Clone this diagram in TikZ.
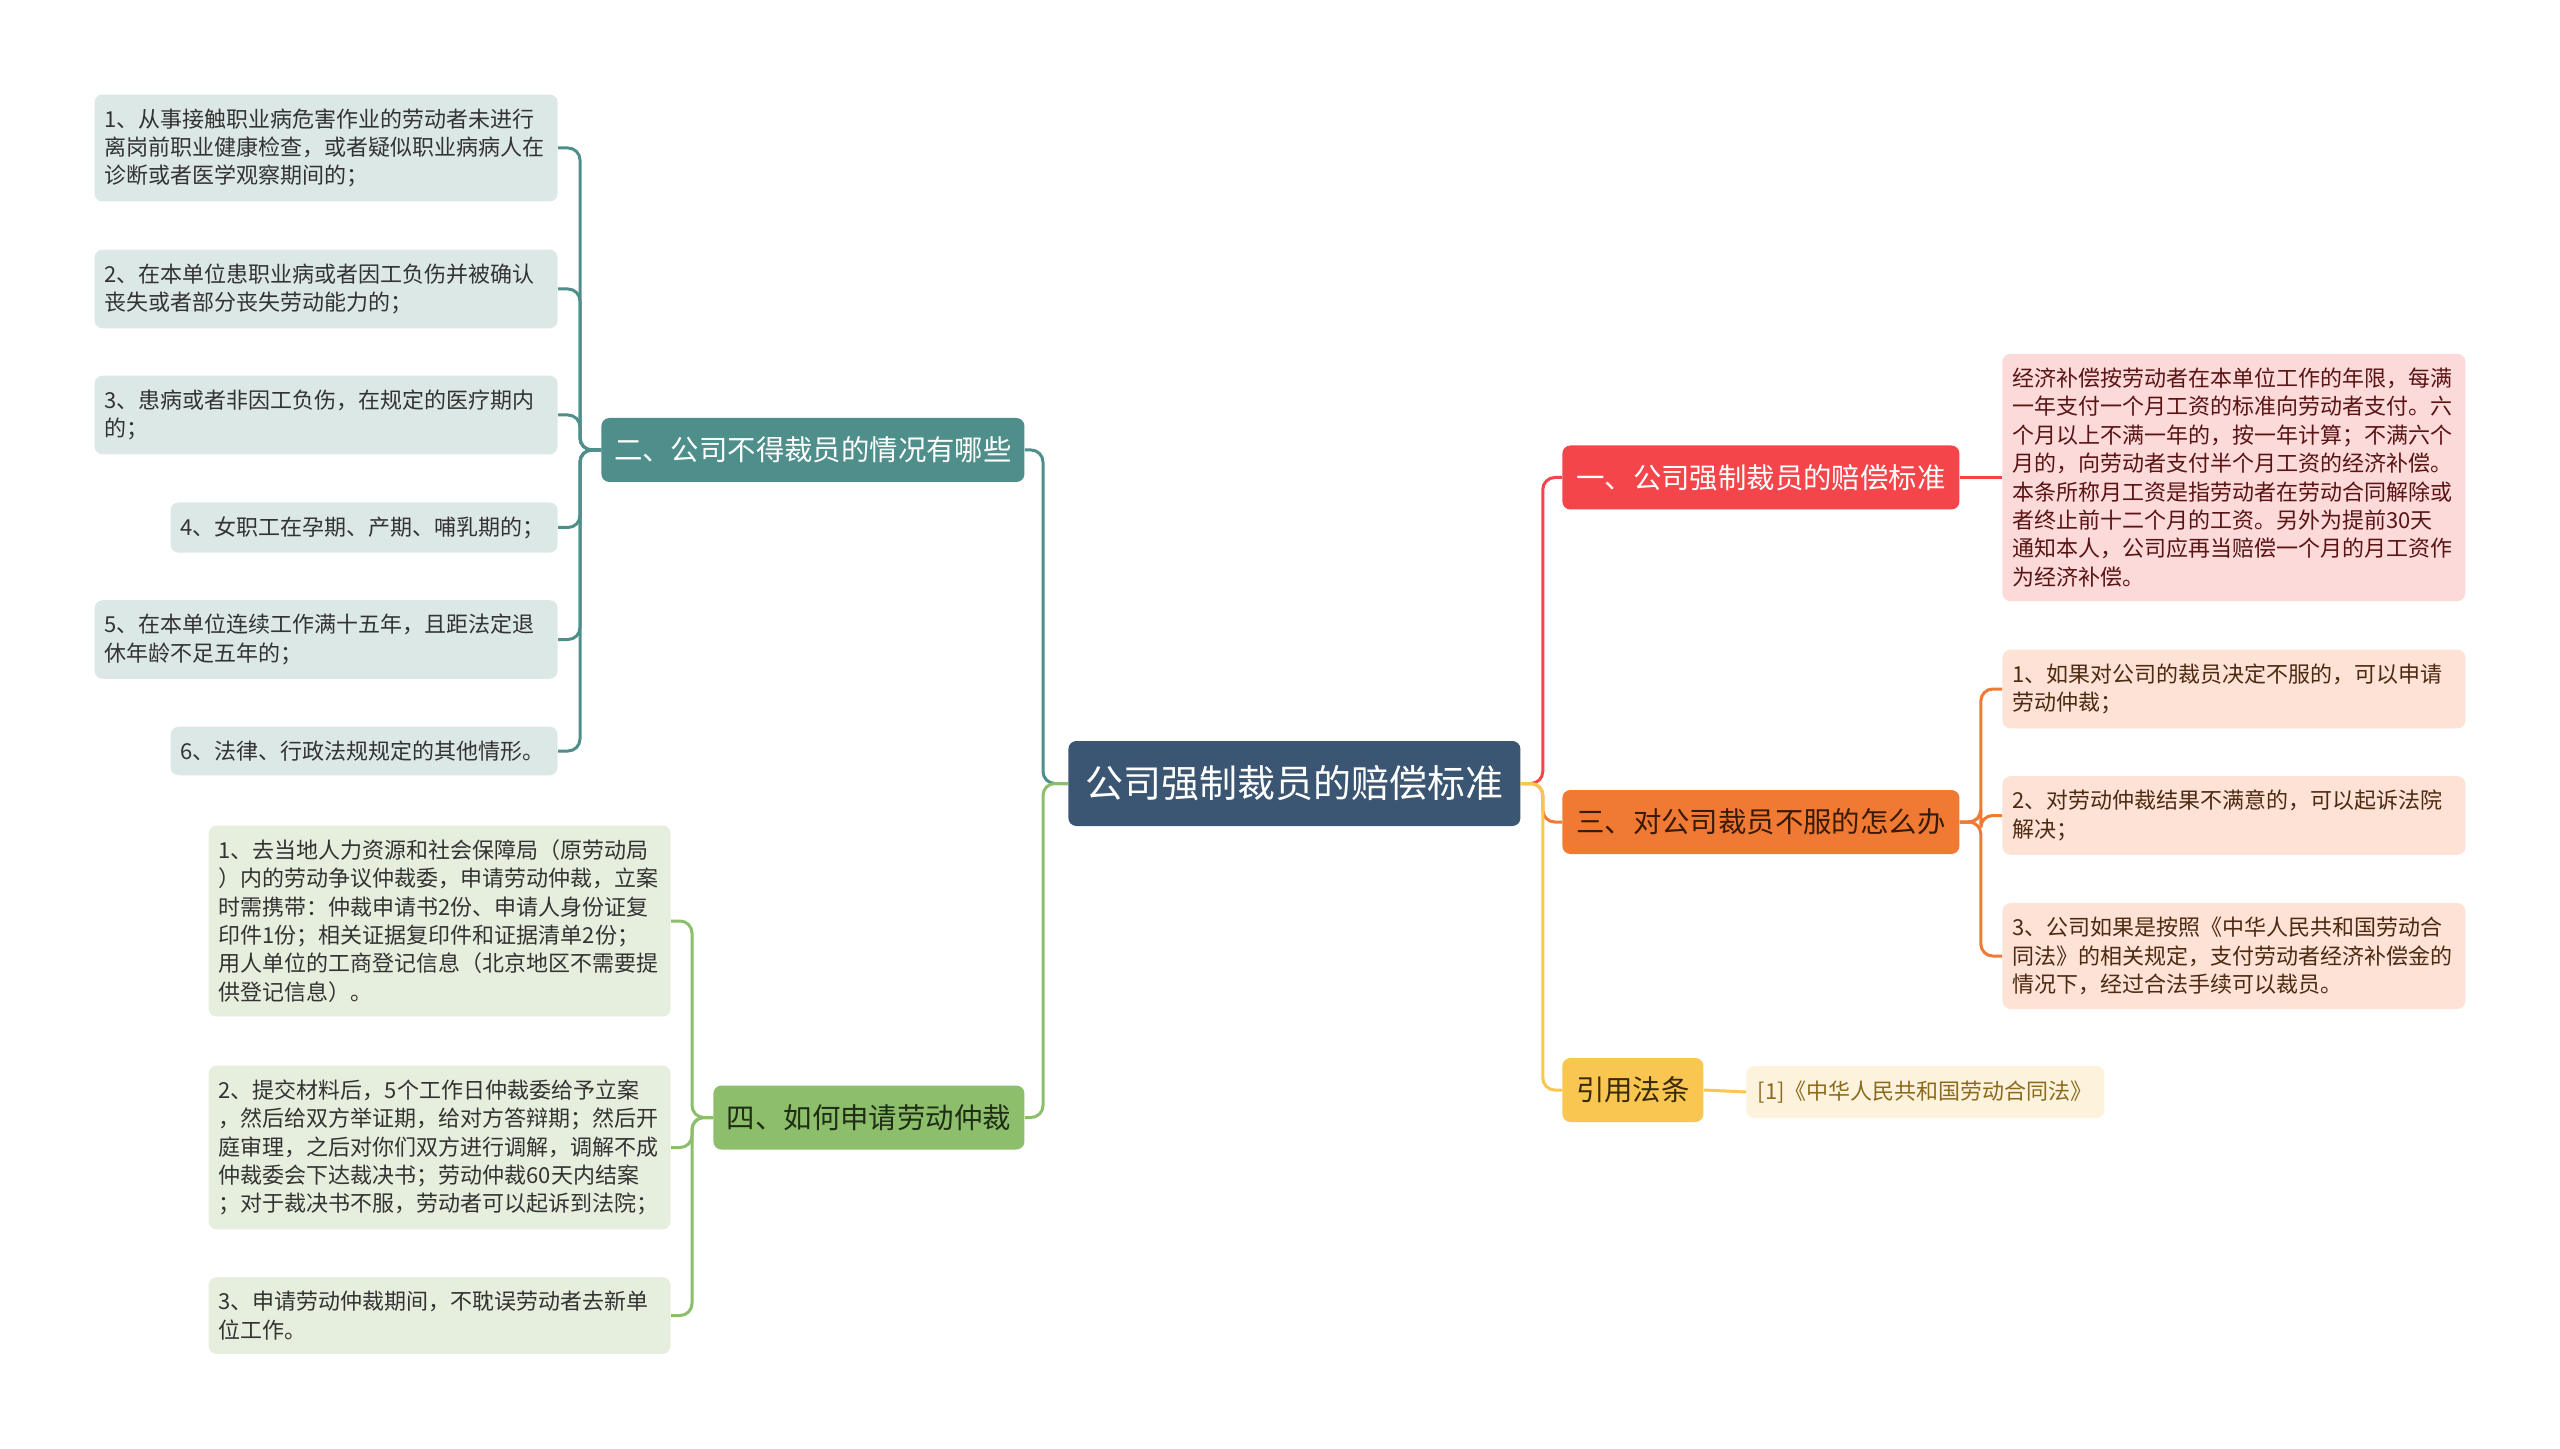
\documentclass[tikz,border=0pt]{standalone}
\usepackage{fontspec}
\setmainfont{Noto Sans CJK SC}
\definecolor{rootc}{HTML}{3B5672}
\definecolor{tealc}{HTML}{4E8E8B}
\definecolor{tealleaf}{HTML}{DCE8E6}
\definecolor{greenc}{HTML}{8DBE6C}
\definecolor{greenleaf}{HTML}{E6EFDD}
\definecolor{greentext}{HTML}{1F2E14}
\definecolor{redc}{HTML}{F4454A}
\definecolor{pinkleaf}{HTML}{FCDADA}
\definecolor{pinktext}{HTML}{5A1414}
\definecolor{orangec}{HTML}{F07A33}
\definecolor{orangetext}{HTML}{3A1A05}
\definecolor{peachleaf}{HTML}{FDE2D5}
\definecolor{peachtext}{HTML}{4D2A12}
\definecolor{yellowc}{HTML}{F8C651}
\definecolor{yellowtext}{HTML}{3A2A08}
\definecolor{refleaf}{HTML}{FDF3DC}
\definecolor{reftext}{HTML}{8B6A1E}
\begin{document}
\begin{tikzpicture}[x=0.5pt, y=-0.5pt]
        \tikzstyle{every node}=[rounded corners=4pt, inner sep=0pt]
        \tikzstyle{leaf}=[inner xsep=5pt, inner ysep=7pt, align=left,
          text=black!80, font=\fontsize{11}{14.2}\selectfont]
        \tikzstyle{branch}=[anchor=west, minimum height=32pt,
          font=\fontsize{14.2}{16}\selectfont]
        \tikzstyle{link}=[line width=1.5pt, rounded corners=6pt]
        \fill[white] (0,0) rectangle (2560,1449);
        \useasboundingbox (0,0) rectangle (2560,1449);

        % root and main branches
        \path (1068,783.5) node[anchor=west, fill=rootc, text=white, minimum width=226pt,
          minimum height=42.5pt, font=\fontsize{19}{21}\selectfont] (root) {公司强制裁员的赔偿标准};
        \path (601,450) node[branch, fill=tealc, text=white, minimum width=211.5pt] (b2) {二、公司不得裁员的情况有哪些};
        \path (713,1117.5) node[branch, fill=greenc, text=greentext, minimum width=155.5pt] (b4) {四、如何申请劳动仲裁};
        \path (1562,477.5) node[branch, fill=redc, text=white, minimum width=198.5pt] (b1) {一、公司强制裁员的赔偿标准};
        \path (1562,822) node[branch, fill=orangec, text=orangetext, minimum width=198.5pt] (b3) {三、对公司裁员不服的怎么办};
        \path (1562,1090) node[branch, fill=yellowc, text=yellowtext, minimum width=70.5pt] (b5) {引用法条};

        % leaves of b2
        \path (558,148) node[leaf, anchor=east, fill=tealleaf, text width=221.5pt] (t1)
          {1、从事接触职业病危害作业的劳动者未进行\\离岗前职业健康检查，或者疑似职业病病人在\\诊断或者医学观察期间的；};
        \path (558,289) node[leaf, anchor=east, fill=tealleaf, text width=221.5pt] (t2)
          {2、在本单位患职业病或者因工负伤并被确认\\丧失或者部分丧失劳动能力的；};
        \path (558,415) node[leaf, anchor=east, fill=tealleaf, text width=221.5pt] (t3)
          {3、患病或者非因工负伤，在规定的医疗期内\\的；};
        \path (558,527.5) node[leaf, anchor=east, fill=tealleaf, text width=183.5pt] (t4)
          {4、女职工在孕期、产期、哺乳期的；};
        \path (558,639.5) node[leaf, anchor=east, fill=tealleaf, text width=221.5pt] (t5)
          {5、在本单位连续工作满十五年，且距法定退\\休年龄不足五年的；};
        \path (558,751) node[leaf, anchor=east, fill=tealleaf, text width=183.5pt] (t6)
          {6、法律、行政法规规定的其他情形。};

        % leaves of b4
        \path (671,921) node[leaf, anchor=east, fill=greenleaf, text width=221pt] (g1)
          {1、去当地人力资源和社会保障局（原劳动局\\）内的劳动争议仲裁委，申请劳动仲裁，立案\\时需携带：仲裁申请书2份、申请人身份证复\\印件1份；相关证据复印件和证据清单2份；\\用人单位的工商登记信息（北京地区不需要提\\供登记信息）。};
        \path (671,1147.5) node[leaf, anchor=east, fill=greenleaf, text width=221pt] (g2)
          {2、提交材料后，5个工作日仲裁委给予立案\\，然后给双方举证期，给对方答辩期；然后开\\庭审理，之后对你们双方进行调解，调解不成\\仲裁委会下达裁决书；劳动仲裁60天内结案\\；对于裁决书不服，劳动者可以起诉到法院；};
        \path (671,1315.5) node[leaf, anchor=east, fill=greenleaf, text width=221pt] (g3)
          {3、申请劳动仲裁期间，不耽误劳动者去新单\\位工作。};

        % leaves of b1, b3, b5
        \path (2002,477.5) node[leaf, anchor=west, fill=pinkleaf, text=pinktext, text width=221.5pt] (r1)
          {经济补偿按劳动者在本单位工作的年限，每满\\一年支付一个月工资的标准向劳动者支付。六\\个月以上不满一年的，按一年计算；不满六个\\月的，向劳动者支付半个月工资的经济补偿。\\本条所称月工资是指劳动者在劳动合同解除或\\者终止前十二个月的工资。另外为提前30天\\通知本人，公司应再当赔偿一个月的月工资作\\为经济补偿。};
        \path (2002,689) node[leaf, anchor=west, fill=peachleaf, text=peachtext, text width=221.5pt] (o1)
          {1、如果对公司的裁员决定不服的，可以申请\\劳动仲裁；};
        \path (2002,815.5) node[leaf, anchor=west, fill=peachleaf, text=peachtext, text width=221.5pt] (o2)
          {2、对劳动仲裁结果不满意的，可以起诉法院\\解决；};
        \path (2002,956) node[leaf, anchor=west, fill=peachleaf, text=peachtext, text width=221.5pt] (o3)
          {3、公司如果是按照《中华人民共和国劳动合\\同法》的相关规定，支付劳动者经济补偿金的\\情况下，经过合法手续可以裁员。};
        \path (1746,1092) node[leaf, anchor=west, fill=refleaf, text=reftext, minimum width=179pt,
          minimum height=26pt, align=center] (y1) {[1]《中华人民共和国劳动合同法》};

        % connectors
        \draw[link, tealc] (root.west) -- ++(-25,0) |- (b2.east);
        \draw[link, greenc] (root.west) -- ++(-25,0) |- (b4.east);
        \draw[link, redc] (root.east) -- ++(22,0) |- (b1.west);
        \draw[link, orangec] (root.east) -- ++(22,0) |- (b3.west);
        \draw[link, yellowc] (root.east) -- ++(22,0) |- (b5.west);

        \foreach \k in {1,...,6}
        {
          \draw[link, tealc] (b2.west) -- ++(-21,0) |- (t\k.east);
        }
        \foreach \k in {1,2,3}
        {
          \draw[link, greenc] (b4.west) -- ++(-21,0) |- (g\k.east);
          \draw[link, orangec] (b3.east) -- ++(21,0) |- (o\k.west);
        }
        \draw[link, redc] (b1.east) -- (r1.west);
        \draw[link, yellowc] (b5.east) -- (y1.west);
      \end{tikzpicture}
\end{document}
